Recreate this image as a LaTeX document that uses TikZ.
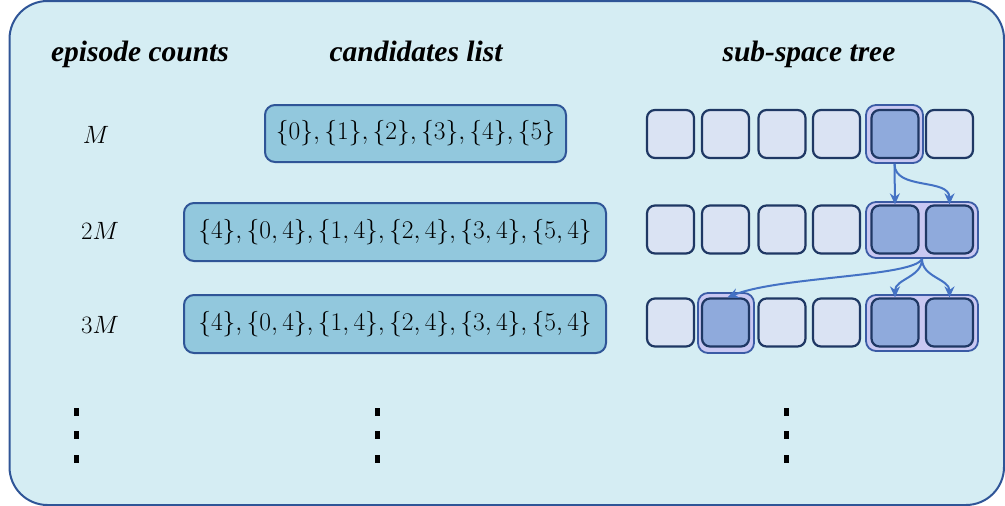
\documentclass[tikz,border=0pt]{standalone}
\usepackage{fix-cm}
\usepackage{fontspec}
\setmainfont{Liberation Serif}
\usetikzlibrary{arrows.meta}
\definecolor{bgc}{HTML}{D5EDF3}
\definecolor{outerb}{HTML}{2F5597}
\definecolor{candf}{HTML}{92C8DD}
\definecolor{candb}{HTML}{2F5597}
\definecolor{cellf}{HTML}{DAE3F3}
\definecolor{cellb}{HTML}{1F3864}
\definecolor{self}{HTML}{8FAADC}
\definecolor{grpf}{HTML}{C9C8F2}
\definecolor{grpb}{HTML}{3B5BA5}
\definecolor{arrc}{HTML}{4472C4}
\begin{document}
\begin{tikzpicture}[x=1pt,y=-1pt,
  cell/.style={draw=cellb, fill=cellf, line width=2.2pt, rounded corners=8pt,
    minimum width=47pt, minimum height=48pt, inner sep=0pt},
  selcell/.style={cell, fill=self},
  grp/.style={draw=grpb, fill=grpf, line width=1.8pt, rounded corners=10pt, inner sep=0pt},
  cand/.style={draw=candb, fill=candf, line width=2pt, rounded corners=10pt, inner sep=0pt,
    font=\fontsize{25.5}{30}\selectfont},
  titletxt/.style={font=\fontsize{29.5}{34}\selectfont\bfseries\itshape, anchor=base},
  cnt/.style={font=\fontsize{25}{30}\selectfont},
  arr/.style={-{Stealth[length=11pt,width=10pt]}, draw=arrc, line width=2pt},
  vdot/.style={fill=black, minimum width=5pt, minimum height=8pt, inner sep=0pt}]
\useasboundingbox (0,0) rectangle (1005,506);
\draw[draw=outerb, fill=bgc, line width=2pt, rounded corners=38pt] (9.5,1) rectangle (1004,505);

% titles
\node[titletxt] (t1) at (140,61) {episode counts};
\node[titletxt] (t2) at (416,61) {candidates list};
\node[titletxt] (t3) at (809,61) {sub-space tree};

% counts
\node[cnt] (n1) at (96,135) {$M$};
\node[cnt] (n2) at (100,231) {$2M$};
\node[cnt] (n3) at (100,325) {$3M$};

% candidates
\node[cand, minimum width=301pt, minimum height=57pt] (k1) at (415.5,133.5)
  {$\{0\}, \{1\}, \{2\}, \{3\}, \{4\}, \{5\}$};
\node[cand, minimum width=422pt, minimum height=58pt] (k2) at (395,232)
  {$\{4\}, \{0, 4\}, \{1, 4\}, \{2, 4\}, \{3, 4\}, \{5, 4\}$};
\node[cand, minimum width=422pt, minimum height=58pt] (k3) at (395,324)
  {$\{4\}, \{0, 4\}, \{1, 4\}, \{2, 4\}, \{3, 4\}, \{5, 4\}$};

% groups
\node[grp, minimum width=57pt, minimum height=58pt] (g1) at (894.5,134) {};
\node[grp, minimum width=112pt, minimum height=56pt] (g2) at (922,230) {};
\node[grp, minimum width=56pt, minimum height=60pt] (g3a) at (726,323) {};
\node[grp, minimum width=112pt, minimum height=56pt] (g3b) at (922,323) {};

% cells row 1
\node[cell] (a1) at (670.5,134) {};
\node[cell] (a2) at (725.5,134) {};
\node[cell] (a3) at (782,134) {};
\node[cell] (a4) at (836.5,134) {};
\node[selcell] (a5) at (895,134) {};
\node[cell] (a6) at (949.5,134) {};
% row 2
\node[cell] (b1) at (670.5,229.5) {};
\node[cell] (b2) at (725.5,229.5) {};
\node[cell] (b3) at (782,229.5) {};
\node[cell] (b4) at (836.5,229.5) {};
\node[selcell] (b5) at (895,229.5) {};
\node[selcell] (b6) at (949.5,229.5) {};
% row 3
\node[cell] (c1) at (670.5,322.5) {};
\node[selcell] (c2) at (725.5,322.5) {};
\node[cell] (c3) at (782,322.5) {};
\node[cell] (c4) at (836.5,322.5) {};
\node[selcell] (c5) at (895,322.5) {};
\node[selcell] (c6) at (949.5,322.5) {};

% arrows
\draw[arr] (g1.south) -- (b5.north);
\draw[arr] (g1.south) to[out=-90,in=90] (b6.north);
\draw[arr] (g2.south) to[out=-90,in=90] (c5.north);
\draw[arr] (g2.south) to[out=-90,in=90] (c6.north);
\draw[arr] (g2.south) .. controls +(-8,18) and +(52,-21) .. ([xshift=2pt]c2.north);

% vertical dots
\foreach \x/\n in {76/p,377/q,786/r}{
  \node[vdot] (\n1) at (\x,412) {};
  \node[vdot] (\n2) at (\x,435) {};
  \node[vdot] (\n3) at (\x,459) {};
}
\end{tikzpicture}
\end{document}
